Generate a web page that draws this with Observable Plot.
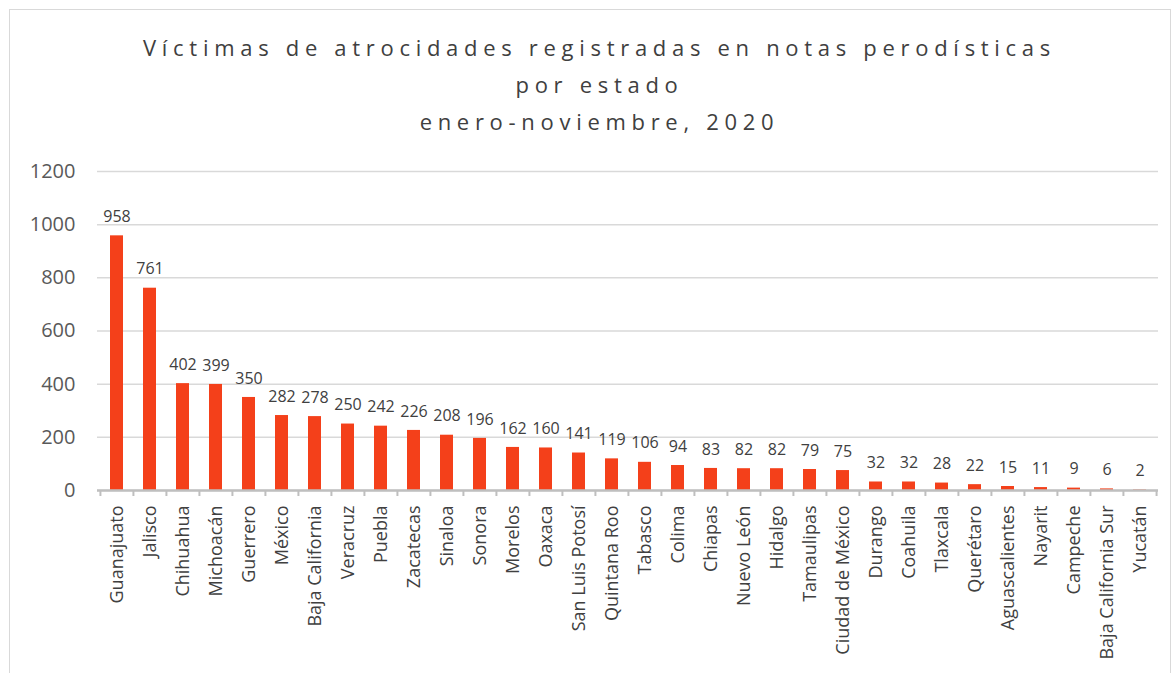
<!DOCTYPE html>
<html>
<head>
<meta charset="utf-8">
<script src="https://cdn.jsdelivr.net/npm/d3@7"></script>
<script src="https://cdn.jsdelivr.net/npm/@observablehq/plot@0.6"></script>
<style>
  body { margin: 0; background: #fff; font-family: "Open Sans", sans-serif; }
  #frame { position: absolute; left: 9px; top: 9px; width: 1160px; height: 680px; border: 1px solid #d9d9d9; }
  #title { position: absolute; left: 3px; width: 1193px; top: 29px; text-align: center; font-size: 22px; line-height: 37px; letter-spacing: 5.7px; color: #404040; }
  #chart { position: absolute; left: 0; top: 140px; }
</style>
</head>
<body>
<div id="frame"></div>
<div id="title">Víctimas de atrocidades registradas en notas perodísticas<br>por estado<br>enero-noviembre, 2020</div>
<div id="chart"></div>
<script>
const estados = ["Guanajuato","Jalisco","Chihuahua","Michoacán","Guerrero","México","Baja California","Veracruz","Puebla","Zacatecas","Sinaloa","Sonora","Morelos","Oaxaca","San Luis Potosí","Quintana Roo","Tabasco","Colima","Chiapas","Nuevo León","Hidalgo","Tamaulipas","Ciudad de México","Durango","Coahuila","Tlaxcala","Querétaro","Aguascalientes","Nayarit","Campeche","Baja California Sur","Yucatán"];
const victimas = [958,761,402,399,350,282,278,250,242,226,208,196,162,160,141,119,106,94,83,82,82,79,75,32,32,28,22,15,11,9,6,2];
const yTicks = [0,200,400,600,800,1000,1200];

const data = estados.map((e, i) => ({estado: e, valor: victimas[i]}));

const W = 1175, H = 533, mL = 97, mR = 17;
const step = (W - mL - mR) / estados.length;

const chart = Plot.plot({
  width: W,
  height: H,
  marginLeft: mL,
  marginRight: mR,
  marginTop: 31,
  marginBottom: 183,
  style: { fontFamily: "Open Sans, sans-serif", background: "transparent" },
  x: { domain: estados, paddingInner: 0.61, paddingOuter: 0.305, label: null },
  y: { domain: [0, 1200], label: null },
  marks: [
    Plot.gridY(yTicks, { stroke: "#d9d9d9", strokeOpacity: 1, strokeWidth: 1.5 }),
    Plot.axisY(yTicks, { tickSize: 0, tickPadding: 22, fontSize: 20, fill: "#595959", label: null, tickFormat: d => String(d) }),
    Plot.barY(data, { x: "estado", y: "valor", fill: "#f4401a" }),
    Plot.ruleY([0], { stroke: "#bfbfbf", strokeWidth: 2.5 }),
    Plot.ruleX(estados, { x: d => d, y1: 0, y2: 0, dx: -step / 2, stroke: "#bfbfbf", strokeWidth: 2, insetBottom: -6 }),
    Plot.ruleX([estados[estados.length - 1]], { x: d => d, y1: 0, y2: 0, dx: step / 2, stroke: "#bfbfbf", strokeWidth: 2, insetBottom: -6 }),
    Plot.text(data, { x: "estado", y: "valor", text: d => String(d.valor), dy: -19, fontSize: 16, fill: "#404040" }),
    Plot.axisX({ tickSize: 0, tickPadding: 15, tickRotate: -90, fontSize: 18, fill: "#404040", label: null })
  ]
});
document.getElementById("chart").append(chart);
</script>
</body>
</html>
